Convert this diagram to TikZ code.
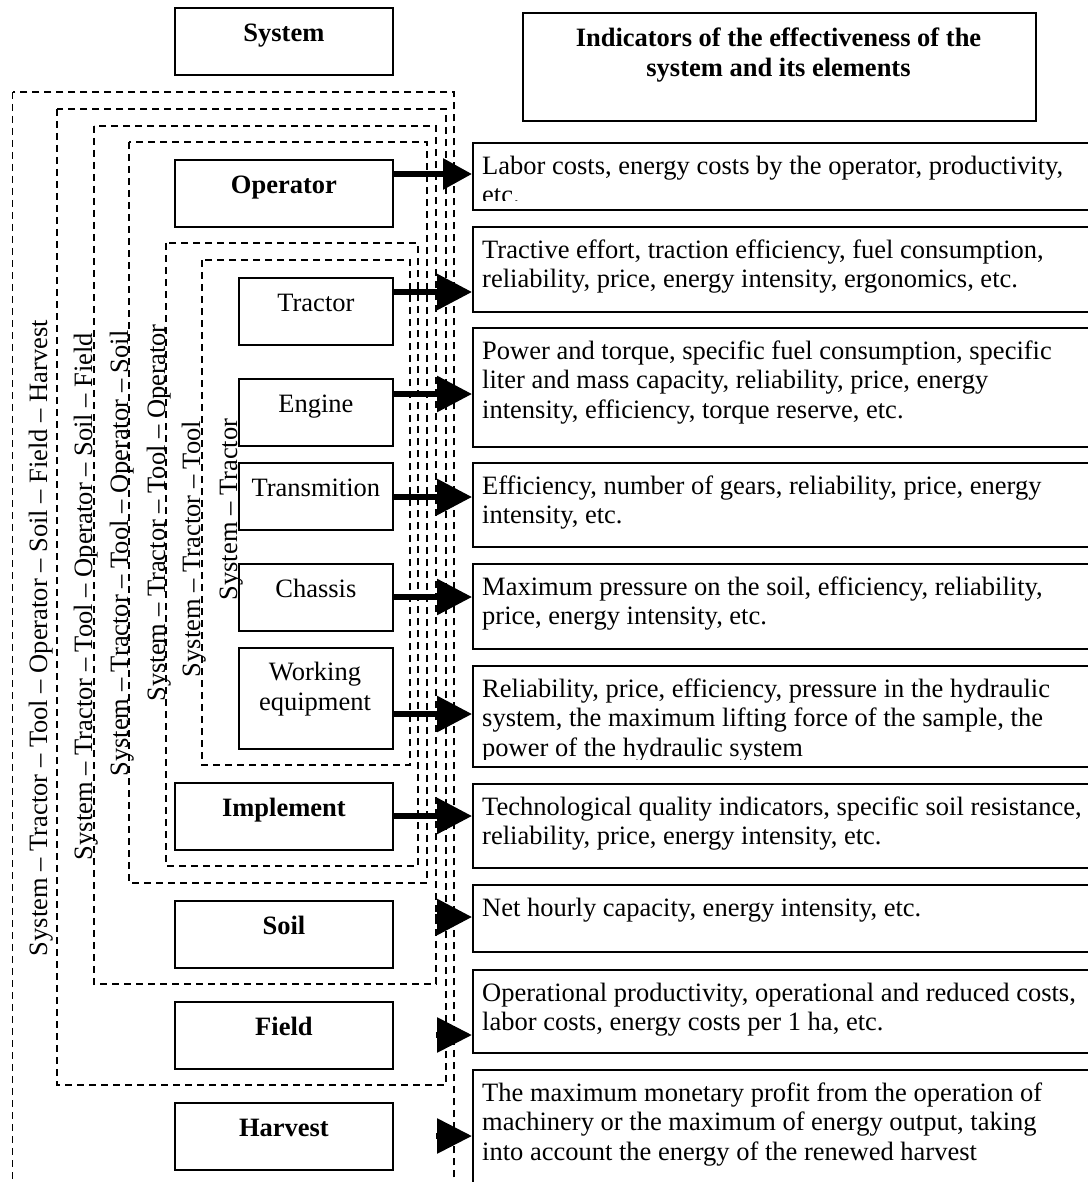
\documentclass[tikz,border=0pt]{standalone}
\usepackage{fontspec}
\setmainfont{Liberation Serif}
\usetikzlibrary{arrows.meta}
\newcommand\myfsz{\fontsize{26.5pt}{29.5pt}\selectfont}
\begin{document}
\begin{tikzpicture}[x=1pt,y=-1pt,
  every node/.style={font=\myfsz},
  sbox/.style={draw, line width=1.8pt, inner sep=0pt, anchor=north west},
  elbox/.style={sbox, text height=34pt, text depth=33pt, minimum height=67pt},
  wide/.style={minimum width=218pt},
  narrow/.style={minimum width=154pt},
  bold/.style={font=\myfsz\bfseries},
  rbox/.style={sbox, minimum width=628pt},
  rtext/.style={anchor=north west, inner sep=0pt, align=left},
  dbox/.style={line width=1.4pt, dash pattern=on 7pt off 5pt},
  vlab/.style={rotate=90, anchor=base, inner sep=0pt},
  arr/.style={line width=6pt, -{Triangle[length=35pt,width=35pt]}},
  arrsmall/.style={line width=6pt, -{Triangle[length=29pt,width=30pt]}},
  arrhead/.style={line width=6pt, -{Triangle[length=35pt,width=34pt]}}
]
\useasboundingbox (0,0) rectangle (1087,1182);

% dashed system frames
\draw[dbox] (12.7,92) rectangle (454,1200);
\draw[dbox] (57,109) rectangle (446,1085);
\draw[dbox] (94,126) rectangle (436,984);
\draw[dbox] (129,142) rectangle (427,883);
\draw[dbox] (166,243) rectangle (418,866);
\draw[dbox] (202,260) rectangle (410,765);

% vertical labels
\node[vlab] (l1) at (47,638) {System – Tractor – Tool – Operator – Soil – Field – Harvest};
\node[vlab] (l2) at (92,596.5) {System – Tractor – Tool – Operator – Soil – Field};
\node[vlab] (l3) at (128,553.5) {System – Tractor – Tool – Operator – Soil};
\node[vlab] (l4) at (165,513) {System – Tractor – Tool – Operator};
\node[vlab] (l5) at (200,549) {System – Tractor – Tool};
\node[vlab] (l6) at (237,509.5) {System – Tractor};

% header boxes
\node[elbox, wide, bold] (sys) at (174,7) {System};
\node[sbox, minimum width=513pt, minimum height=108pt] (ind) at (522,12) {};
\node[anchor=north, align=center, inner sep=0pt, bold] (indt) at (778.5,25.85)
  {\strut Indicators of the effectiveness of the\\system and its elements};

% element boxes
\node[elbox, wide, bold] (op) at (174,159) {Operator};
\node[elbox, narrow] (tr) at (238,277) {Tractor};
\node[elbox, narrow] (en) at (238,378) {Engine};
\node[elbox, narrow] (tm) at (238,462) {Transmition};
\node[elbox, narrow] (ch) at (238,563) {Chassis};
\node[sbox, narrow, minimum height=101pt] (we) at (238,647) {};
\node[anchor=base, inner sep=0pt] (we1) at (315,680) {Working};
\node[anchor=base, inner sep=0pt] (we2) at (315,710) {equipment};
\node[elbox, wide, bold] (im) at (174,782) {Implement};
\node[elbox, wide, bold] (so) at (174,900) {Soil};
\node[elbox, wide, bold] (fi) at (174,1001) {Field};
\node[elbox, wide, bold] (ha) at (174,1102) {Harvest};

% indicator boxes
\node[rbox, minimum height=67pt] (r1) at (472,142) {};
\node[rbox, minimum height=85pt] (r2) at (472,226) {};
\node[rbox, minimum height=119pt] (r3) at (472,327) {};
\node[rbox, minimum height=84pt] (r4) at (472,462) {};
\node[rbox, minimum height=85pt] (r5) at (472,563) {};
\node[rbox, minimum height=101pt] (r6) at (472,665) {};
\node[rbox, minimum height=84pt] (r7) at (472,783) {};
\node[rbox, minimum height=67pt] (r8) at (472,884) {};
\node[rbox, minimum height=83pt] (r9) at (472,969) {};
\node[rbox, minimum height=150pt] (r10) at (472,1069) {};

\begin{scope}
\clip (472,142) rectangle (1100,201);
\node[rtext] (t1) at (482,153.35) {\strut Labor costs, energy costs by the operator, productivity,\\etc.};
\end{scope}
\node[rtext] (t2) at (482,237.35) {\strut Tractive effort, traction efficiency, fuel consumption,\\reliability, price, energy intensity, ergonomics, etc.};
\node[rtext] (t3) at (482,338.35) {\strut Power and torque, specific fuel consumption, specific\\liter and mass capacity, reliability, price, energy\\intensity, efficiency, torque reserve, etc.};
\node[rtext] (t4) at (482,473.35) {\strut Efficiency, number of gears, reliability, price, energy\\intensity, etc.};
\node[rtext] (t5) at (482,574.35) {\strut Maximum pressure on the soil, efficiency, reliability,\\price, energy intensity, etc.};
\begin{scope}
\clip (472,665) rectangle (1100,759);
\node[rtext] (t6) at (482,676.35) {\strut Reliability, price, efficiency, pressure in the hydraulic\\system, the maximum lifting force of the sample, the\\power of the hydraulic system};
\end{scope}
\node[rtext] (t7) at (482,794.35) {\strut Technological quality indicators, specific soil resistance,\\reliability, price, energy intensity, etc.};
\node[rtext] (t8) at (482,895.35) {\strut Net hourly capacity, energy intensity, etc.};
\node[rtext] (t9) at (482,980.35) {\strut Operational productivity, operational and reduced costs,\\labor costs, energy costs per 1 ha, etc.};
\node[rtext] (t10) at (482,1080.35) {\strut The maximum monetary profit from the operation of\\machinery or the maximum of energy output, taking\\into account the energy of the renewed harvest};

% arrows
\draw[arrsmall] (op.east |- 0,174) -- (r1.west |- 0,174);
\draw[arr] (tr.east |- 0,292) -- (r2.west |- 0,292);
\draw[arr] (en.east |- 0,394) -- (r3.west |- 0,394);
\draw[arr] (tm.east |- 0,497) -- (r4.west |- 0,497);
\draw[arr] (ch.east |- 0,597) -- (r5.west |- 0,597);
\draw[arr] (we.east |- 0,714) -- (r6.west |- 0,714);
\draw[arr] (im.east |- 0,816) -- (r7.west |- 0,816);
\coordinate (s8) at (435,917);
\coordinate (s9) at (436,1035);
\coordinate (s10) at (436,1136);
\draw[arr] (s8) -- (r8.west |- s8);
\draw[arrhead] (s9) -- (r9.west |- s9);
\draw[arrhead] (s10) -- (r10.west |- s10);
\end{tikzpicture}
\end{document}
